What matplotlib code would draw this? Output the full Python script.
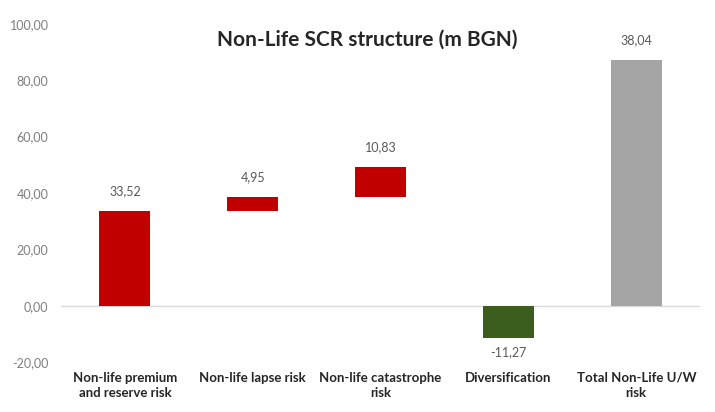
import matplotlib.pyplot as plt
import numpy as np

categories = ["Non-life premium\nand reserve risk", "Non-life lapse risk",
              "Non-life catastrophe\nrisk", "Diversification", "Total Non-Life U/W\nrisk"]
risk_values = [33.52, 4.95, 10.83]
diversification = -11.27
total_value = 38.04
yticks = [-20, 0, 20, 40, 60, 80, 100]

plt.rcParams['font.family'] = ['Lato', 'DejaVu Sans']

# waterfall layout as drawn in the source chart
bottoms = list(np.concatenate([[0], np.cumsum(risk_values)[:-1]]))
heights = list(risk_values)
labels = list(risk_values)
bottoms.append(0)
heights.append(diversification)
labels.append(diversification)
bottoms.append(0)
heights.append(sum(risk_values) + total_value)
labels.append(total_value)
colors = ["#C00000"] * 3 + ["#3B5E1F", "#A5A5A5"]

fig = plt.figure(figsize=(7.15, 4.12), dpi=100)
ax = fig.add_axes([0.0853, 0.121, 0.894, 0.821])
x = np.arange(len(categories))
ax.bar(x, heights, bottom=bottoms, width=0.4, color=colors, zorder=3)

for xi, b, h, lab in zip(x, bottoms, heights, labels):
    top = b + h
    txt = f"{lab:.2f}".replace(".", ",")
    if h >= 0:
        ax.annotate(txt, (xi, top), xytext=(0, 10), textcoords="offset points",
                    ha="center", va="bottom", fontsize=9, color="#595959")
    else:
        ax.annotate(txt, (xi, top), xytext=(0, -6), textcoords="offset points",
                    ha="center", va="top", fontsize=9, color="#595959")

ax.axhline(0, color="#D9D9D9", linewidth=1, zorder=2)
ax.set_xlim(-0.5, len(categories) - 0.5)
ax.set_ylim(-20, 100)
ax.set_yticks(yticks)
ax.set_yticklabels([f"{v:.2f}".replace(".", ",") for v in yticks],
                   fontsize=9, color="#7F7F7F")
ax.set_xticks(x)
ax.set_xticklabels(categories, fontsize=9.5, fontweight="bold", color="#262626",
                   linespacing=1.35)
ax.tick_params(length=0)
ax.tick_params(axis="x", pad=7)
ax.tick_params(axis="y", pad=9)
for s in ax.spines.values():
    s.set_visible(False)

fig.text(367 / 715, 1 - 40 / 412, "Non-Life SCR structure (m BGN)", ha="center",
         va="center", fontsize=15, fontweight="bold", color="#262626")

fig.savefig("out.png", dpi=100)
